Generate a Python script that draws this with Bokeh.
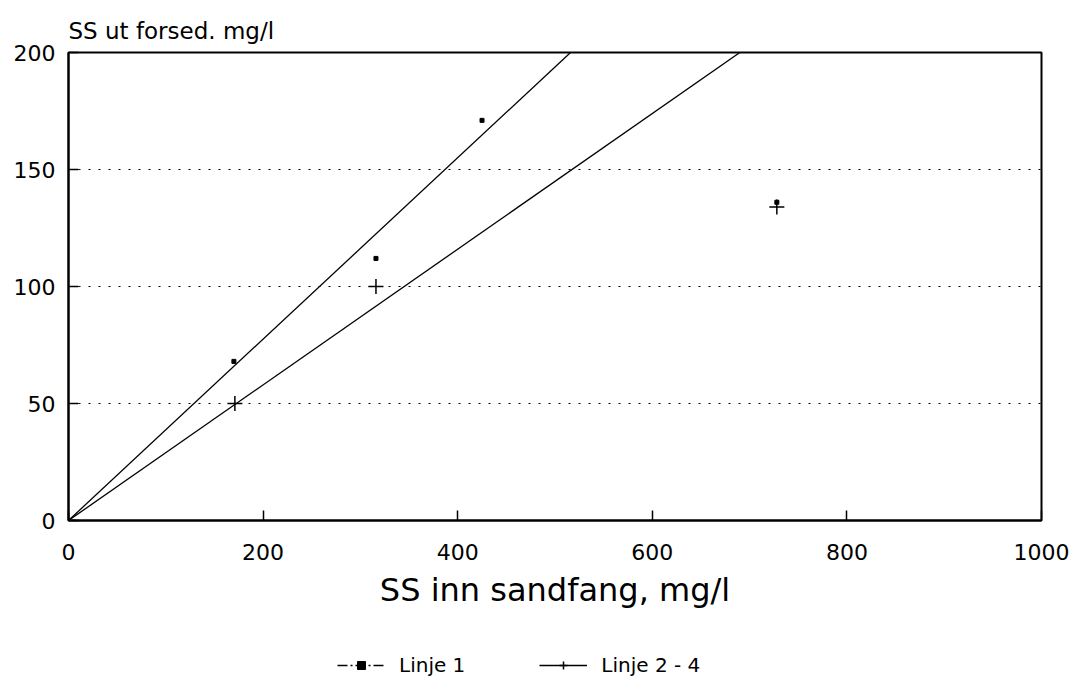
from bokeh.plotting import figure
from bokeh.layouts import column
from bokeh.models import Range1d, FixedTicker, Legend, LegendItem, Title, ColumnDataSource
from bokeh.embed import file_html
from bokeh.resources import INLINE

# ---- data ----
linje1_x = [0, 170, 316, 425, 728]
linje1_y = [0, 68, 112, 171, 136]
linje24_x = [0, 171, 316, 728]
linje24_y = [0, 50, 100, 134]
fit1_x = [0, 516]
fit1_y = [0, 200]
fit24_x = [0, 690]
fit24_y = [0, 200]
x_ticks = [0, 200, 400, 600, 800, 1000]
y_ticks = [0, 50, 100, 150, 200]
x_title = "SS inn sandfang, mg/l"
y_title = "SS ut forsed. mg/l"
names = ["Linje 1", "Linje 2 - 4"]

FONT = "DejaVu Sans"

p = figure(width=1075, height=630, output_backend="svg", toolbar_location=None,
           x_range=Range1d(0, 1000), y_range=Range1d(0, 200),
           min_border_left=68, min_border_right=34, min_border_top=52, min_border_bottom=110)
p.background_fill_color = "white"
p.border_fill_color = "white"
p.outline_line_color = "black"
p.outline_line_width = 2

p.xgrid.visible = False
p.ygrid.grid_line_color = "black"
p.ygrid.grid_line_dash = "2 8"
p.ygrid.grid_line_width = 1

for ax in (p.xaxis[0], p.yaxis[0]):
    ax.major_tick_in = 10
    ax.major_tick_out = 0
    ax.minor_tick_in = 0
    ax.minor_tick_out = 0
    ax.axis_line_color = "black"
    ax.axis_line_width = 2
    ax.major_tick_line_color = "black"
    ax.major_tick_line_width = 1.5
    ax.major_label_text_font = FONT
    ax.major_label_text_font_size = "22px"
    ax.major_label_text_color = "black"

p.xaxis[0].ticker = FixedTicker(ticks=x_ticks)
p.yaxis[0].ticker = FixedTicker(ticks=y_ticks)
p.xaxis[0].major_label_standoff = 23
p.yaxis[0].major_label_standoff = 13
p.xaxis[0].axis_label = x_title
p.xaxis[0].axis_label_text_font = FONT
p.xaxis[0].axis_label_text_font_size = "32px"
p.xaxis[0].axis_label_text_font_style = "normal"
p.xaxis[0].axis_label_text_color = "black"
p.xaxis[0].axis_label_standoff = 8

t = Title(text=y_title, align="left", text_font=FONT, text_font_size="23px",
          text_font_style="normal", text_color="black", standoff=17)
p.add_layout(t, "above")

s1 = ColumnDataSource(dict(x=linje1_x, y=linje1_y))
s2 = ColumnDataSource(dict(x=linje24_x, y=linje24_y))

p.line(fit1_x, fit1_y, line_color="black", line_width=1.3)
p.line(fit24_x, fit24_y, line_color="black", line_width=1.3)
p.scatter("x", "y", source=s1, marker="square", size=4, color="black")
p.scatter("x", "y", source=s2, marker="cross", size=15, line_color="black", line_width=1.5)

# ---- legend strip below the chart (its renderers lie outside this strip's ranges) ----
lg = figure(width=1075, height=49, output_backend="svg", toolbar_location=None,
            x_range=Range1d(-2, -1), y_range=Range1d(-2, -1),
            x_axis_location=None, y_axis_location=None,
            min_border_left=0, min_border_right=0, min_border_top=0, min_border_bottom=0)
lg.outline_line_color = None
lg.grid.visible = False
lg.background_fill_color = "white"
lg.border_fill_color = "white"
l1 = lg.line(fit1_x, fit1_y, line_color="black", line_width=1.3, line_dash="10 3 2 3")
m1 = lg.scatter(linje1_x, linje1_y, marker="square", size=4, color="black")
l2 = lg.line(fit24_x, fit24_y, line_color="black", line_width=1.3)
m2 = lg.scatter(linje24_x, linje24_y, marker="cross", size=15, line_color="black", line_width=1.5)

legend = Legend(items=[LegendItem(label=names[0], renderers=[l1, m1]),
                       LegendItem(label=names[1], renderers=[l2, m2])],
                orientation="horizontal", location=(269, 2),
                label_text_font=FONT, label_text_font_size="20px", label_text_color="black",
                glyph_width=48, glyph_height=20, label_standoff=14, spacing=74,
                border_line_color=None, background_fill_alpha=0, margin=0, padding=4)
lg.add_layout(legend, "center")

layout = column(p, lg, spacing=0)
open("out.html", "w").write(file_html(layout, INLINE))
